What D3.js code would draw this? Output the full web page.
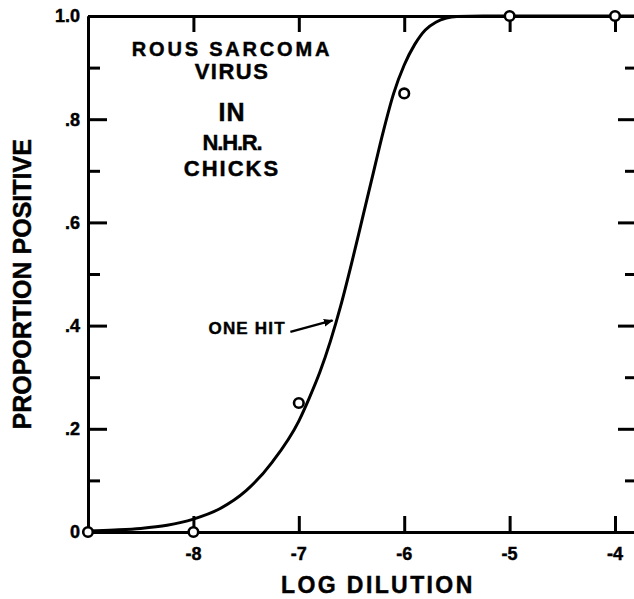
<!DOCTYPE html>
<html>
<head>
<meta charset="utf-8">
<script src="https://cdn.jsdelivr.net/npm/d3@7"></script>
<style>
  html, body { margin: 0; padding: 0; background: #fff; }
  svg { display: block; }
  text { font-family: "Liberation Sans", Arial, sans-serif; font-weight: bold; fill: #000; stroke: #000; stroke-width: 0.45px; }
</style>
</head>
<body>
<svg id="chart" width="634" height="599"></svg>
<script>
// Observed proportion of positive chicks at each log dilution
const dilutions = [-9, -8, -7, -6, -5, -4];
const proportions = [0, 0, 0.25, 0.85, 1.0, 1.0];

// Sampled points of the one-hit curve
const curveDilutions = [-9, -8.75, -8.5, -8.25, -8, -7.75, -7.5, -7.25, -7, -6.9, -6.8, -6.7, -6.6, -6.5, -6.4, -6.3, -6.2, -6.1, -6, -5.9, -5.8, -5.7, -5.6, -5.5, -5.25, -5, -4.5, -4, -3.82];
const curveProportions = [0.002, 0.004, 0.007, 0.013, 0.025, 0.045, 0.08, 0.136, 0.215, 0.26, 0.31, 0.37, 0.44, 0.52, 0.605, 0.69, 0.775, 0.85, 0.905, 0.945, 0.973, 0.988, 0.996, 0.999, 1.0, 1.0, 1.0, 1.0, 1.0];

// Axis ticks and labels
const xTicks = [-8, -7, -6, -5, -4];
const xTickLabels = ["-8", "-7", "-6", "-5", "-4"];
const xFrameTicks = [-8, -7, -6, -5, -4];
const yMajorTicks = [0, 0.2, 0.4, 0.6, 0.8, 1.0];
const yTickLabels = ["0", ".2", ".4", ".6", ".8", "1.0"];
const yMinorTicks = [0.1, 0.3, 0.5, 0.7, 0.9];

// Title block and curve annotation
const titleLines = ["ROUS SARCOMA", "VIRUS", "IN", "N.H.R.", "CHICKS"];
const curveLabel = "ONE HIT";

const svg = d3.select("#chart");
const x = d3.scaleLinear().domain([-9, -3.82]).range([88, 634]);
const y = d3.scaleLinear().domain([0, 1]).range([532, 16]);

function styleAxis(g) {
  g.selectAll("path.domain").attr("stroke", "#000").attr("stroke-width", 3);
  g.selectAll(".tick line").attr("stroke", "#000").attr("stroke-width", 3);
  g.selectAll(".tick text").remove();
}

// Left axis: major and minor inward ticks
svg.append("g").attr("transform", `translate(${x(-9)},0)`)
  .call(d3.axisRight(y).tickValues(yMajorTicks).tickSize(19).tickSizeOuter(0))
  .call(styleAxis);
svg.append("g").attr("transform", `translate(${x(-9)},0)`)
  .call(d3.axisRight(y).tickValues(yMinorTicks).tickSize(12).tickSizeOuter(0))
  .call(styleAxis);

// Right side ticks (frame edge lies just past the page)
svg.append("g").attr("transform", `translate(${x(-3.82) + 8},0)`)
  .call(d3.axisLeft(y).tickValues([0.2, 0.4, 0.6, 0.8]).tickSize(24).tickSizeOuter(0))
  .call(styleAxis)
  .call(g => g.select("path.domain").remove());
svg.append("g").attr("transform", `translate(${x(-3.82) + 8},0)`)
  .call(d3.axisLeft(y).tickValues(yMinorTicks).tickSize(17).tickSizeOuter(0))
  .call(styleAxis)
  .call(g => g.select("path.domain").remove());

// Bottom and top axes with inward ticks
svg.append("g").attr("transform", `translate(0,${y(0)})`)
  .call(d3.axisTop(x).tickValues(xFrameTicks).tickSize(16).tickSizeOuter(0))
  .call(styleAxis);
svg.append("g").attr("transform", `translate(0,${y(1)})`)
  .call(d3.axisBottom(x).tickValues(xFrameTicks).tickSize(16).tickSizeOuter(0))
  .call(styleAxis);

// Tick labels
svg.append("g").selectAll("text").data(yMajorTicks).join("text")
  .attr("x", x(-9) - 8)
  .attr("y", d => y(d))
  .attr("dy", "0.36em")
  .attr("text-anchor", "end")
  .attr("font-size", 18)
  .text((d, i) => yTickLabels[i]);

svg.append("g").selectAll("text").data(xTicks).join("text")
  .attr("x", d => x(d))
  .attr("y", y(0) + 28)
  .attr("text-anchor", "middle")
  .attr("font-size", 18)
  .text((d, i) => xTickLabels[i]);

// Axis titles
svg.append("text")
  .attr("x", x(-6.25))
  .attr("y", 593)
  .attr("text-anchor", "middle")
  .attr("font-size", 23)
  .attr("letter-spacing", 2.4)
  .text("LOG DILUTION");

svg.append("text")
  .attr("transform", `translate(31,${y(0.48)}) rotate(-90)`)
  .attr("text-anchor", "middle")
  .attr("font-size", 25)
  .text("PROPORTION POSITIVE");

// One-hit curve
const line = d3.line()
  .x(d => x(d[0]))
  .y(d => y(d[1]))
  .curve(d3.curveMonotoneX);
svg.append("path")
  .datum(d3.zip(curveDilutions, curveProportions))
  .attr("d", line)
  .attr("fill", "none")
  .attr("stroke", "#000")
  .attr("stroke-width", 3);

// Observed points
svg.append("g").selectAll("circle").data(d3.zip(dilutions, proportions)).join("circle")
  .attr("cx", d => x(d[0]))
  .attr("cy", d => y(d[1]))
  .attr("r", 4.8)
  .attr("fill", "#fff")
  .attr("stroke", "#000")
  .attr("stroke-width", 2.6);

// Title block
const titleX = 232;
const titleBaselines = [56, 79, 121, 150, 176];
const titleSizes = [20, 22, 25, 22, 22];
const titleSpacing = [2.8, 1.5, 1, -1.2, 2];
svg.append("g").selectAll("text").data(titleLines).join("text")
  .attr("x", titleX)
  .attr("y", (d, i) => titleBaselines[i])
  .attr("text-anchor", "middle")
  .attr("font-size", (d, i) => titleSizes[i])
  .attr("letter-spacing", (d, i) => titleSpacing[i])
  .text(d => d);

// Curve label with arrow
svg.append("defs").append("marker")
  .attr("id", "arrowhead")
  .attr("viewBox", "0 0 10 10")
  .attr("refX", 9).attr("refY", 5)
  .attr("markerWidth", 4).attr("markerHeight", 4)
  .attr("orient", "auto")
  .append("path").attr("d", "M0,1 L10,5 L0,9 Z").attr("fill", "#000");

svg.append("text")
  .attr("x", x(-7.49))
  .attr("y", y(0.383))
  .attr("text-anchor", "middle")
  .attr("font-size", 17)
  .attr("letter-spacing", 1.2)
  .text(curveLabel);

svg.append("line")
  .attr("x1", x(-7.08)).attr("y1", y(0.388))
  .attr("x2", x(-6.68)).attr("y2", y(0.41))
  .attr("stroke", "#000")
  .attr("stroke-width", 2.4)
  .attr("marker-end", "url(#arrowhead)");
</script>
</body>
</html>
